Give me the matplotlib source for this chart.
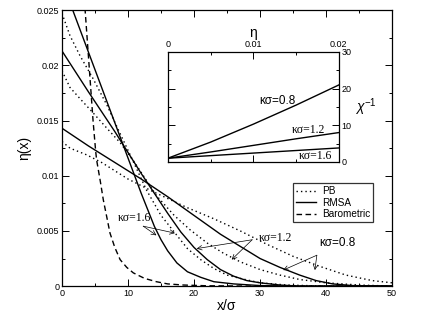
import matplotlib
matplotlib.use("Agg")
import matplotlib.pyplot as plt
from matplotlib.ticker import MultipleLocator, FixedLocator

# ---------------- data ----------------
# main panel: eta(x) vs x/sigma
x_rmsa_08 = [0, 4, 8, 12, 16, 20, 24, 27, 30, 33, 36, 38.5, 41, 44, 50]
y_rmsa_08 = [0.0143, 0.0127, 0.0112, 0.0097, 0.0081, 0.0064, 0.0047, 0.0036,
             0.0025, 0.0017, 0.0010, 0.0005, 0.0002, 0.00005, 0.0]
x_pb_08 = [0, 1.2, 3.7, 6, 10, 14, 19, 23, 27, 31, 35, 39, 43, 47, 50]
y_pb_08 = [0.0131, 0.0125, 0.0119, 0.0112, 0.0097, 0.0085, 0.0071, 0.0061,
           0.0050, 0.0038, 0.0027, 0.0018, 0.0010, 0.0005, 0.0003]

x_rmsa_12 = [0, 4, 8, 12, 14, 16, 18, 20, 22, 24, 26, 28, 30, 33, 36, 50]
y_rmsa_12 = [0.0213, 0.0176, 0.0140, 0.0102, 0.0084, 0.0066, 0.0049, 0.0035,
             0.0024, 0.0015, 0.0009, 0.0005, 0.0003, 0.0001, 0.0, 0.0]
x_pb_12 = [0, 1.2, 2.7, 4.7, 6.8, 8.8, 11, 14.3, 17, 19.4, 22, 24.4, 27, 30,
           33, 36, 40, 45, 50]
y_pb_12 = [0.0195, 0.0180, 0.0170, 0.0157, 0.0143, 0.0130, 0.0112, 0.0082,
           0.0064, 0.0051, 0.0039, 0.0030, 0.0022, 0.0015, 0.0010, 0.0006,
           0.0003, 0.0001, 0.0]

x_rmsa_16 = [0, 2, 4, 6, 8, 10, 12, 14, 15, 16, 17.4, 19, 21, 23, 26, 30, 35, 50]
y_rmsa_16 = [0.0276, 0.0244, 0.0212, 0.0180, 0.0148, 0.0116, 0.0084, 0.0054,
             0.0042, 0.0032, 0.0021, 0.0013, 0.0008, 0.0004, 0.0002, 0.00005,
             0.0, 0.0]
x_pb_16 = [0, 1.2, 2.7, 4.7, 6.8, 8.5, 10, 12.8, 15, 17, 19, 21, 23, 25, 27,
           30, 34, 40, 50]
y_pb_16 = [0.0247, 0.0227, 0.0209, 0.0188, 0.0164, 0.0142, 0.0123, 0.0087,
           0.0064, 0.0049, 0.0034, 0.0024, 0.0016, 0.0010, 0.0007, 0.0003,
           0.0001, 0.0, 0.0]

x_baro = [3.3, 3.5, 4.1, 4.7, 5.1, 5.25, 5.8, 6.26, 6.8, 7.27, 8.0, 8.8, 9.8,
          10.8, 12.5, 14.3, 16, 18.4, 22, 30, 50]
y_baro = [0.0270, 0.0250, 0.0200, 0.0150, 0.0122, 0.0114, 0.0095, 0.0078,
          0.0062, 0.0048, 0.0035, 0.0024, 0.0017, 0.0012, 0.0007, 0.0004,
          0.0002, 0.0001, 0.00003, 0.0, 0.0]

# inset: inverse compressibility vs eta
inset_eta = [0.0, 0.005, 0.01, 0.015, 0.02]
chi_inv_08 = [1.0, 5.4, 10.3, 15.5, 21.0]
chi_inv_12 = [1.0, 2.7, 4.5, 6.3, 8.0]
chi_inv_16 = [1.0, 1.7, 2.4, 3.1, 3.8]

main_xticks = [0, 10, 20, 30, 40, 50]
main_yticks = [0, 0.005, 0.01, 0.015, 0.02, 0.025]
main_yticklabels = ["0", "0.005", "0.01", "0.015", "0.02", "0.025"]
inset_xticks = [0, 0.01, 0.02]
inset_xticklabels = ["0", "0.01", "0.02"]
inset_yticks = [0, 10, 20, 30]

# ---------------- figure ----------------
SANS = ["Liberation Sans", "DejaVu Sans"]
SERIF = ["Liberation Serif", "DejaVu Serif"]
plt.rcParams["font.family"] = SANS
plt.rcParams["mathtext.fontset"] = "custom"
plt.rcParams["mathtext.rm"] = "Liberation Sans"
plt.rcParams["mathtext.it"] = "Liberation Sans:italic"

fig = plt.figure(figsize=(4.23, 3.27), dpi=100)
ax = fig.add_axes([0.1466, 0.125, 0.7804, 0.844])

lw = 1.0
dot = (0, (1, 2.2))
ax.plot(x_pb_08, y_pb_08, color="black", lw=lw, ls=dot)
ax.plot(x_pb_12, y_pb_12, color="black", lw=lw, ls=dot)
ax.plot(x_pb_16, y_pb_16, color="black", lw=lw, ls=dot, label="PB")
ax.plot(x_rmsa_08, y_rmsa_08, color="black", lw=lw)
ax.plot(x_rmsa_12, y_rmsa_12, color="black", lw=lw)
ax.plot(x_rmsa_16, y_rmsa_16, color="black", lw=lw, label="RMSA")
ax.plot(x_baro, y_baro, color="black", lw=lw, ls=(0, (4, 2.5)), label="Barometric")

ax.set_xlim(0, 50)
ax.set_ylim(0, 0.025)
ax.xaxis.set_major_locator(FixedLocator(main_xticks))
ax.xaxis.set_minor_locator(MultipleLocator(5))
ax.yaxis.set_major_locator(FixedLocator(main_yticks))
ax.set_yticklabels(main_yticklabels)
ax.yaxis.set_minor_locator(MultipleLocator(0.0025))
ax.tick_params(which="both", direction="in", top=True, right=True,
               labelsize=6.5, width=0.7, pad=2)
ax.tick_params(which="major", length=5)
ax.tick_params(which="minor", length=2.5)
for s in ax.spines.values():
    s.set_linewidth(0.9)
ax.set_xlabel("x/σ", fontsize=10, labelpad=1)
ax.set_ylabel("η(x)", fontsize=10, labelpad=4)

leg = ax.legend(loc="upper left", bbox_to_anchor=(0.700, 0.373),
                fontsize=7.2, frameon=True, fancybox=False, handlelength=2.0,
                borderpad=0.3, labelspacing=0.15, handletextpad=0.6,
                borderaxespad=0)
leg.get_frame().set_edgecolor("black")
leg.get_frame().set_linewidth(0.9)

arrow_kw = dict(arrowstyle="->", color="black", lw=0.5,
                shrinkA=0, shrinkB=0, mutation_scale=8)
# kappa sigma = 1.6
ax.text(11.0, 0.0062, "κσ=1.6", fontsize=8.5, family=SERIF, ha="center", va="center")
ax.annotate("", xy=(14.3, 0.0046), xytext=(12.3, 0.00543), arrowprops=arrow_kw)
ax.annotate("", xy=(17.1, 0.0048), xytext=(12.3, 0.00543), arrowprops=arrow_kw)
# kappa sigma = 1.2
ax.text(32.4, 0.0044, "κσ=1.2", fontsize=8.5, family=SERIF, ha="center", va="center")
ax.annotate("", xy=(20.4, 0.0034), xytext=(28.8, 0.0042), arrowprops=arrow_kw)
ax.annotate("", xy=(25.7, 0.0024), xytext=(28.8, 0.0042), arrowprops=arrow_kw)
# kappa sigma = 0.8
ax.text(41.7, 0.0039, "κσ=0.8", fontsize=8.5, family=SANS, ha="center", va="center")
ax.annotate("", xy=(33.5, 0.00145), xytext=(38.6, 0.0028), arrowprops=arrow_kw)
ax.annotate("", xy=(38.3, 0.00145), xytext=(38.6, 0.0028), arrowprops=arrow_kw)

# ---------------- inset ----------------
ins = fig.add_axes([0.397, 0.505, 0.404, 0.336])
ins.plot(inset_eta, chi_inv_08, color="black", lw=lw)
ins.plot(inset_eta, chi_inv_12, color="black", lw=lw)
ins.plot(inset_eta, chi_inv_16, color="black", lw=lw)
ins.set_xlim(0, 0.02)
ins.set_ylim(0, 30)
ins.xaxis.set_major_locator(FixedLocator(inset_xticks))
ins.set_xticklabels(inset_xticklabels)
ins.xaxis.set_minor_locator(MultipleLocator(0.005))
ins.yaxis.set_major_locator(FixedLocator(inset_yticks))
ins.yaxis.set_minor_locator(MultipleLocator(5))
ins.tick_params(which="both", direction="in", top=True, bottom=True,
                left=True, right=True, labeltop=True, labelbottom=False,
                labelleft=False, labelright=True, labelsize=6.5, width=0.7, pad=2)
ins.tick_params(which="major", length=5)
ins.tick_params(which="minor", length=2.5)
for s in ins.spines.values():
    s.set_linewidth(0.9)
ins.xaxis.set_label_position("top")
ins.yaxis.set_label_position("right")
ins.set_xlabel("η", fontsize=10, labelpad=2)
ins.set_ylabel("$\\chi^{-1}$", fontsize=10, rotation=0, labelpad=10, va="center")
ins.text(0.0128, 16.5, "κσ=0.8", fontsize=8.5, family=SANS, ha="center", va="center")
ins.text(0.0164, 8.6, "κσ=1.2", fontsize=8.5, family=SERIF, ha="center", va="center")
ins.text(0.0173, 1.6, "κσ=1.6", fontsize=8.5, family=SERIF, ha="center", va="center")

fig.savefig("out.png", dpi=100)
